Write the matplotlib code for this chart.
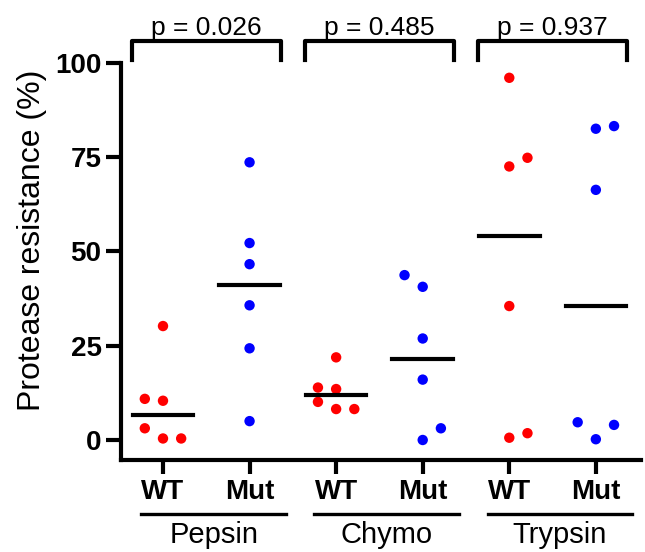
import numpy as np
import matplotlib
matplotlib.use('Agg')
import matplotlib.pyplot as plt
from matplotlib.transforms import blended_transform_factory

plt.rcParams['font.family'] = ['Liberation Sans', 'DejaVu Sans']

# Protease resistance (%) per sample
enzymes = ['Pepsin', 'Chymo', 'Trypsin']
genotypes = ['WT', 'Mut']
p_values = ['0.026', '0.485', '0.937']

pepsin_wt = [30.2, 10.9, 10.4, 3.1, 0.4, 0.4]
pepsin_mut = [73.6, 52.2, 46.6, 35.7, 24.3, 5.0]
chymo_wt = [21.9, 13.9, 13.5, 10.1, 8.2, 8.2]
chymo_mut = [43.7, 40.6, 26.9, 16.0, 3.1, 0.0]
trypsin_wt = [96.0, 74.8, 72.5, 35.5, 1.8, 0.6]
trypsin_mut = [83.2, 82.5, 66.3, 4.7, 4.0, 0.2]

groups = [pepsin_wt, pepsin_mut, chymo_wt, chymo_mut, trypsin_wt, trypsin_mut]
colors = ['#ff0000', '#0000ff'] * 3


def swarm_offsets(values, row_height=4.9, step=0.21):
    # bin sorted values into rows; lowest point of a row sits in the middle,
    # the others go alternately to the sides (odd rows start right, even left)
    order = np.argsort(values, kind='stable')
    offsets = np.zeros(len(values))
    row = 0
    row_start = None
    k = 0
    for i in order:
        v = values[i]
        if row_start is None or v - row_start > row_height:
            row += 1
            row_start = v
            k = 0
        else:
            k += 1
        if k > 0:
            side = 1 if row % 2 == 1 else -1
            n = (k + 1) // 2
            sign = side if k % 2 == 1 else -side
            offsets[i] = sign * n * step
    return offsets


fig = plt.figure(figsize=(6.45, 5.52), dpi=100)
ax = fig.add_axes([0.1876, 0.1667, 0.806, 0.7197])

positions = np.arange(1, len(groups) + 1)
for pos, vals, c in zip(positions, groups, colors):
    vals = np.array(vals)
    ax.scatter(pos + swarm_offsets(vals), vals, s=56, color=c,
               edgecolors='none', zorder=3, clip_on=False)
    med = np.median(vals)
    ax.plot([pos - 0.35, pos + 0.35], [med, med], color='black', lw=3, zorder=4)

ax.set_xlim(0.515, 6.52)
ax.set_ylim(-5.3, 100)
ax.set_yticks([0, 25, 50, 75, 100])
ax.set_xticks(positions)
ax.set_xticklabels(genotypes * 3, fontsize=20, fontweight='bold')
for lab in ax.get_yticklabels():
    lab.set_fontsize(20)
    lab.set_fontweight('bold')

for side in ['top', 'right']:
    ax.spines[side].set_visible(False)
for side in ['left', 'bottom']:
    ax.spines[side].set_linewidth(3)
ax.tick_params(axis='y', width=3, length=11, pad=3)
ax.tick_params(axis='x', width=3, length=10, pad=4)

# enzyme group labels with lines under WT / Mut
trans = blended_transform_factory(ax.transData, ax.transAxes)
for i, name in enumerate(enzymes):
    wt = positions[2 * i]
    mut = positions[2 * i + 1]
    ax.plot([wt - 0.25, mut + 0.42], [-0.136, -0.136], color='black', lw=2.4,
            transform=trans, clip_on=False)
    ax.text((wt + mut) / 2 + 0.085, -0.19, name, transform=trans,
            ha='center', va='center', fontsize=21)

    # significance brackets
    mid = (wt + mut) / 2
    ax.plot([mid - 0.86, mid - 0.86, mid + 0.86, mid + 0.86],
            [100.8, 105.8, 105.8, 100.8], color='black', lw=3, clip_on=False)
    ax.text(mid, 107.4, 'p = ' + p_values[i], ha='center', va='baseline', fontsize=19)

fig.text(32 / 645, 1 - 240 / 552, 'Protease resistance (%)', rotation=90,
         ha='center', va='center', fontsize=23)

fig.savefig('out.png', dpi=100)
